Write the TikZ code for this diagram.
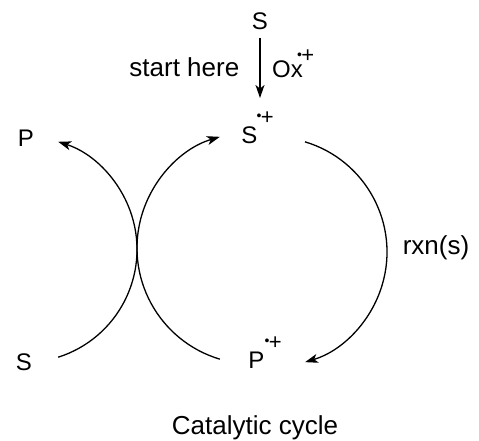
\documentclass[tikz,border=0pt]{standalone}
\usepackage{fontspec}
\setmainfont{Liberation Sans}
\usetikzlibrary{arrows.meta,calc}
\newcommand{\radcat}{\raisebox{3.2pt}{\fontsize{14}{14}\selectfont •}\kern-0.6pt+}
\begin{document}
\begin{tikzpicture}[x=1pt,y=1pt,
  atom/.style={inner sep=0pt,font=\fontsize{24}{28}\selectfont},
  txt/.style={inner sep=0pt,font=\fontsize{26}{30}\selectfont},
  chg/.style={inner sep=0pt,font=\fontsize{22}{26}\selectfont},
  conn/.style={line width=1.3pt,-{Stealth[length=13pt,width=9pt,inset=3.5pt]}}]
\useasboundingbox (0,0) rectangle (479,441);
% labels
\node[atom,anchor=base] (S0) at (260,411) {S};
\node[txt,anchor=base east] (start) at (239.5,364) {start here};
\node[atom,anchor=base west] (Ox) at (272,363.5) {Ox};
\node[chg,anchor=base east] (Oxc) at (314.5,378.5) {\radcat};
\node[atom,anchor=base] (S1) at (249.5,297) {S};
\node[chg,anchor=base east] (S1c) at (274,316.8) {\radcat};
\node[atom,anchor=base] (P0) at (26,294) {P};
\node[atom,anchor=base] (S2) at (24,70) {S};
\node[atom,anchor=base] (P1) at (256.5,72) {P};
\node[chg,anchor=base east] (P1c) at (282,91.8) {\radcat};
\node[txt,anchor=base] (rxn) at (436,186) {rxn(s)};
\node[txt,anchor=base] (cap) at (255,6) {Catalytic cycle};
% arrow S -> S.+
\coordinate (a0) at (260,403);
\coordinate (a1) at (260,343);
\draw[conn] (a0) -- (a1);
% circle centres
\coordinate (c1) at (24,191.5);
\coordinate (c2) at (253,193);
\coordinate (c3) at (272,189);
% S -> P (small left arc)
\draw[conn] ($(c1)+(-72.4:113)$) arc[start angle=-72.4,end angle=72.4,radius=113];
% P.+ -> S.+ (left half of cycle)
\draw[conn] ($(c2)+(253.4:116)$) arc[start angle=253.4,end angle=106.6,radius=116];
% S.+ -> P.+ (right half of cycle)
\draw[conn] ($(c3)+(73.3:115)$) arc[start angle=73.3,end angle=-73.3,radius=115];
\end{tikzpicture}
\end{document}
